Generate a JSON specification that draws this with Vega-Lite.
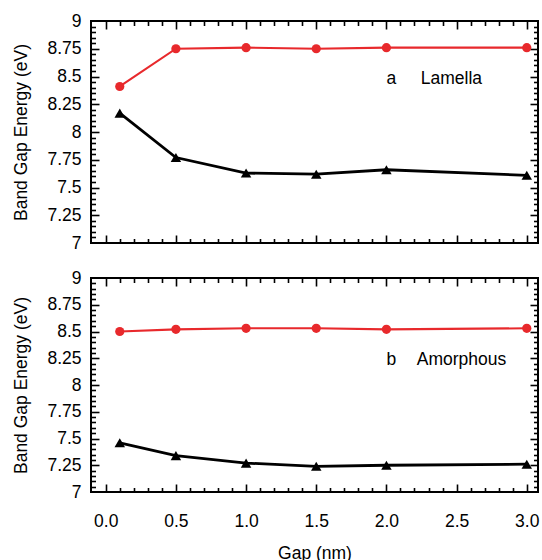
{
  "$schema": "https://vega.github.io/schema/vega-lite/v6.json",
  "padding": {"top": 11, "left": 11, "right": 1, "bottom": 5},
  "background": "white",
  "config": {
    "view": {"stroke": "black", "strokeWidth": 2},
    "axis": {
      "labelFont": "Liberation Sans", "labelFontSize": 17.5, "labelColor": "black",
      "titleFont": "Liberation Sans", "titleFontSize": 17.5, "titleFontWeight": "normal", "titleColor": "black",
      "grid": false, "domain": false, "tickColor": "black", "tickWidth": 1.6,
      "labelFlush": false, "labelOverlap": false, "labelBound": false
    }
  },
  "spacing": 15,
  "datasets": {
    "pts": [
      {"panel": "a", "series": "upper", "gap": 0.1, "energy": 8.41},
      {"panel": "a", "series": "upper", "gap": 0.5, "energy": 8.75},
      {"panel": "a", "series": "upper", "gap": 1.0, "energy": 8.76},
      {"panel": "a", "series": "upper", "gap": 1.5, "energy": 8.75},
      {"panel": "a", "series": "upper", "gap": 2.0, "energy": 8.76},
      {"panel": "a", "series": "upper", "gap": 3.0, "energy": 8.76},
      {"panel": "a", "series": "lower", "gap": 0.1, "energy": 8.17},
      {"panel": "a", "series": "lower", "gap": 0.5, "energy": 7.77},
      {"panel": "a", "series": "lower", "gap": 1.0, "energy": 7.63},
      {"panel": "a", "series": "lower", "gap": 1.5, "energy": 7.62},
      {"panel": "a", "series": "lower", "gap": 2.0, "energy": 7.66},
      {"panel": "a", "series": "lower", "gap": 3.0, "energy": 7.61},
      {"panel": "b", "series": "upper", "gap": 0.1, "energy": 8.50},
      {"panel": "b", "series": "upper", "gap": 0.5, "energy": 8.52},
      {"panel": "b", "series": "upper", "gap": 1.0, "energy": 8.53},
      {"panel": "b", "series": "upper", "gap": 1.5, "energy": 8.53},
      {"panel": "b", "series": "upper", "gap": 2.0, "energy": 8.52},
      {"panel": "b", "series": "upper", "gap": 3.0, "energy": 8.53},
      {"panel": "b", "series": "lower", "gap": 0.1, "energy": 7.46},
      {"panel": "b", "series": "lower", "gap": 0.5, "energy": 7.34},
      {"panel": "b", "series": "lower", "gap": 1.0, "energy": 7.27},
      {"panel": "b", "series": "lower", "gap": 1.5, "energy": 7.24},
      {"panel": "b", "series": "lower", "gap": 2.0, "energy": 7.25},
      {"panel": "b", "series": "lower", "gap": 3.0, "energy": 7.26}
    ],
    "notes": [
      {"panel": "a", "kind": "letter", "gap": 2.036, "energy": 8.435, "label": "a"},
      {"panel": "a", "kind": "name", "gap": 2.245, "energy": 8.435, "label": "Lamella"},
      {"panel": "b", "kind": "letter", "gap": 2.036, "energy": 8.185, "label": "b"},
      {"panel": "b", "kind": "name", "gap": 2.216, "energy": 8.185, "label": "Amorphous"}
    ]
  },
  "vconcat": [
    {
      "width": 447, "height": 222,
      "resolve": {"axis": {"x": "independent", "y": "independent"}},
      "layer": [
        {
          "data": {"name": "pts"}, "transform": [{"filter": "datum.panel == 'a'"}],
          "mark": {"type": "line"},
          "encoding": {
            "x": {"field": "gap", "type": "quantitative", "scale": {"domain": [-0.105, 3.08], "nice": false, "zero": false}, "axis": null},
            "y": {"field": "energy", "type": "quantitative", "scale": {"domain": [7, 9], "nice": false, "zero": false},
                  "axis": {"orient": "left", "values": [7, 7.25, 7.5, 7.75, 8, 8.25, 8.5, 8.75, 9], "ticks": false, "labelExpr": "format(datum.value, '~g')", "labelPadding": 10, "title": "Band Gap Energy (eV)", "titlePadding": 16}},
            "color": {"field": "series", "type": "nominal", "scale": {"domain": ["upper", "lower"], "range": ["#e8292c", "#000000"]}, "legend": null},
            "strokeWidth": {"field": "series", "type": "nominal", "scale": {"domain": ["upper", "lower"], "range": [2.1, 2.8]}, "legend": null}
          }
        },
        {
          "data": {"name": "pts"}, "transform": [{"filter": "datum.panel == 'a' && datum.series == 'upper'"}],
          "mark": {"type": "point", "filled": true, "shape": "circle", "size": 85, "opacity": 1, "color": "#e8292c"},
          "encoding": {
            "x": {"field": "gap", "type": "quantitative", "scale": {"domain": [-0.105, 3.08], "nice": false, "zero": false}, "axis": null},
            "y": {"field": "energy", "type": "quantitative", "scale": {"domain": [7, 9], "nice": false, "zero": false}, "axis": null}
          }
        },
        {
          "data": {"name": "pts"}, "transform": [{"filter": "datum.panel == 'a' && datum.series == 'lower'"}],
          "mark": {"type": "point", "filled": true, "shape": "triangle-up", "size": 110, "opacity": 1, "color": "#000000"},
          "encoding": {
            "x": {"field": "gap", "type": "quantitative", "scale": {"domain": [-0.105, 3.08], "nice": false, "zero": false}, "axis": null},
            "y": {"field": "energy", "type": "quantitative", "scale": {"domain": [7, 9], "nice": false, "zero": false}, "axis": null}
          }
        },
        {
          "data": {"name": "notes"}, "transform": [{"filter": "datum.panel == 'a' && datum.kind == 'letter'"}],
          "mark": {"type": "text", "align": "center", "baseline": "alphabetic", "font": "Liberation Sans", "fontSize": 17.5, "color": "black"},
          "encoding": {
            "x": {"field": "gap", "type": "quantitative", "scale": {"domain": [-0.105, 3.08], "nice": false, "zero": false}, "axis": null},
            "y": {"field": "energy", "type": "quantitative", "scale": {"domain": [7, 9], "nice": false, "zero": false}, "axis": null},
            "text": {"field": "label"}
          }
        },
        {
          "data": {"name": "notes"}, "transform": [{"filter": "datum.panel == 'a' && datum.kind == 'name'"}],
          "mark": {"type": "text", "align": "left", "baseline": "alphabetic", "font": "Liberation Sans", "fontSize": 17.5, "color": "black"},
          "encoding": {
            "x": {"field": "gap", "type": "quantitative", "scale": {"domain": [-0.105, 3.08], "nice": false, "zero": false}, "axis": null},
            "y": {"field": "energy", "type": "quantitative", "scale": {"domain": [7, 9], "nice": false, "zero": false}, "axis": null},
            "text": {"field": "label"}
          }
        },
        {
          "data": {"name": "pts"}, "transform": [{"filter": "datum.panel == 'a'"}],
          "mark": {"type": "point", "opacity": 0},
          "encoding": {
            "x": {"field": "gap", "type": "quantitative", "scale": {"domain": [-0.105, 3.08], "nice": false, "zero": false},
                  "axis": {"orient": "bottom", "values": [0, 0.5, 1, 1.5, 2, 2.5, 3], "labels": false, "tickSize": 8, "offset": -8, "title": null}},
            "y": {"field": "energy", "type": "quantitative", "scale": {"domain": [7, 9], "nice": false, "zero": false},
                  "axis": {"orient": "left", "values": [7.25, 7.5, 7.75, 8, 8.25, 8.5, 8.75], "labels": false, "tickSize": 8, "offset": -8, "title": null}}
          }
        },
        {
          "data": {"name": "pts"}, "transform": [{"filter": "datum.panel == 'a'"}],
          "mark": {"type": "point", "opacity": 0},
          "encoding": {
            "x": {"field": "gap", "type": "quantitative", "scale": {"domain": [-0.105, 3.08], "nice": false, "zero": false},
                  "axis": {"orient": "bottom", "values": [0.1, 0.2, 0.3, 0.4, 0.6, 0.7, 0.8, 0.9, 1.1, 1.2, 1.3, 1.4, 1.6, 1.7, 1.8, 1.9, 2.1, 2.2, 2.3, 2.4, 2.6, 2.7, 2.8, 2.9], "labels": false, "tickSize": 4.5, "offset": -4.5, "title": null}},
            "y": {"field": "energy", "type": "quantitative", "scale": {"domain": [7, 9], "nice": false, "zero": false},
                  "axis": {"orient": "left", "values": [7.05, 7.1, 7.15, 7.2, 7.3, 7.35, 7.4, 7.45, 7.55, 7.6, 7.65, 7.7, 7.8, 7.85, 7.9, 7.95, 8.05, 8.1, 8.15, 8.2, 8.3, 8.35, 8.4, 8.45, 8.55, 8.6, 8.65, 8.7, 8.8, 8.85, 8.9, 8.95], "labels": false, "tickSize": 4.5, "offset": -4.5, "title": null}}
          }
        },
        {
          "data": {"name": "pts"}, "transform": [{"filter": "datum.panel == 'a'"}],
          "mark": {"type": "point", "opacity": 0},
          "encoding": {
            "x": {"field": "gap", "type": "quantitative", "scale": {"domain": [-0.105, 3.08], "nice": false, "zero": false},
                  "axis": {"orient": "top", "values": [0, 0.5, 1, 1.5, 2, 2.5, 3], "labels": false, "tickSize": 8, "offset": -8, "title": null}},
            "y": {"field": "energy", "type": "quantitative", "scale": {"domain": [7, 9], "nice": false, "zero": false},
                  "axis": {"orient": "right", "values": [7.25, 7.5, 7.75, 8, 8.25, 8.5, 8.75], "labels": false, "tickSize": 8, "offset": -8, "title": null}}
          }
        },
        {
          "data": {"name": "pts"}, "transform": [{"filter": "datum.panel == 'a'"}],
          "mark": {"type": "point", "opacity": 0},
          "encoding": {
            "x": {"field": "gap", "type": "quantitative", "scale": {"domain": [-0.105, 3.08], "nice": false, "zero": false},
                  "axis": {"orient": "top", "values": [0.1, 0.2, 0.3, 0.4, 0.6, 0.7, 0.8, 0.9, 1.1, 1.2, 1.3, 1.4, 1.6, 1.7, 1.8, 1.9, 2.1, 2.2, 2.3, 2.4, 2.6, 2.7, 2.8, 2.9], "labels": false, "tickSize": 4.5, "offset": -4.5, "title": null}},
            "y": {"field": "energy", "type": "quantitative", "scale": {"domain": [7, 9], "nice": false, "zero": false},
                  "axis": {"orient": "right", "values": [7.05, 7.1, 7.15, 7.2, 7.3, 7.35, 7.4, 7.45, 7.55, 7.6, 7.65, 7.7, 7.8, 7.85, 7.9, 7.95, 8.05, 8.1, 8.15, 8.2, 8.3, 8.35, 8.4, 8.45, 8.55, 8.6, 8.65, 8.7, 8.8, 8.85, 8.9, 8.95], "labels": false, "tickSize": 4.5, "offset": -4.5, "title": null}}
          }
        }
      ]
    },
    {
      "width": 447, "height": 214,
      "resolve": {"axis": {"x": "independent", "y": "independent"}},
      "layer": [
        {
          "data": {"name": "pts"}, "transform": [{"filter": "datum.panel == 'b'"}],
          "mark": {"type": "line"},
          "encoding": {
            "x": {"field": "gap", "type": "quantitative", "scale": {"domain": [-0.105, 3.08], "nice": false, "zero": false},
                  "axis": {"orient": "bottom", "values": [0, 0.5, 1, 1.5, 2, 2.5, 3], "ticks": false, "format": ".1f", "labelPadding": 20, "title": "Gap (nm)", "titlePadding": 15}},
            "y": {"field": "energy", "type": "quantitative", "scale": {"domain": [7, 9], "nice": false, "zero": false},
                  "axis": {"orient": "left", "values": [7, 7.25, 7.5, 7.75, 8, 8.25, 8.5, 8.75, 9], "ticks": false, "labelExpr": "format(datum.value, '~g')", "labelPadding": 10, "title": "Band Gap Energy (eV)", "titlePadding": 16}},
            "color": {"field": "series", "type": "nominal", "scale": {"domain": ["upper", "lower"], "range": ["#e8292c", "#000000"]}, "legend": null},
            "strokeWidth": {"field": "series", "type": "nominal", "scale": {"domain": ["upper", "lower"], "range": [2.1, 2.8]}, "legend": null}
          }
        },
        {
          "data": {"name": "pts"}, "transform": [{"filter": "datum.panel == 'b' && datum.series == 'upper'"}],
          "mark": {"type": "point", "filled": true, "shape": "circle", "size": 85, "opacity": 1, "color": "#e8292c"},
          "encoding": {
            "x": {"field": "gap", "type": "quantitative", "scale": {"domain": [-0.105, 3.08], "nice": false, "zero": false}, "axis": null},
            "y": {"field": "energy", "type": "quantitative", "scale": {"domain": [7, 9], "nice": false, "zero": false}, "axis": null}
          }
        },
        {
          "data": {"name": "pts"}, "transform": [{"filter": "datum.panel == 'b' && datum.series == 'lower'"}],
          "mark": {"type": "point", "filled": true, "shape": "triangle-up", "size": 110, "opacity": 1, "color": "#000000"},
          "encoding": {
            "x": {"field": "gap", "type": "quantitative", "scale": {"domain": [-0.105, 3.08], "nice": false, "zero": false}, "axis": null},
            "y": {"field": "energy", "type": "quantitative", "scale": {"domain": [7, 9], "nice": false, "zero": false}, "axis": null}
          }
        },
        {
          "data": {"name": "notes"}, "transform": [{"filter": "datum.panel == 'b' && datum.kind == 'letter'"}],
          "mark": {"type": "text", "align": "center", "baseline": "alphabetic", "font": "Liberation Sans", "fontSize": 17.5, "color": "black"},
          "encoding": {
            "x": {"field": "gap", "type": "quantitative", "scale": {"domain": [-0.105, 3.08], "nice": false, "zero": false}, "axis": null},
            "y": {"field": "energy", "type": "quantitative", "scale": {"domain": [7, 9], "nice": false, "zero": false}, "axis": null},
            "text": {"field": "label"}
          }
        },
        {
          "data": {"name": "notes"}, "transform": [{"filter": "datum.panel == 'b' && datum.kind == 'name'"}],
          "mark": {"type": "text", "align": "left", "baseline": "alphabetic", "font": "Liberation Sans", "fontSize": 17.5, "color": "black"},
          "encoding": {
            "x": {"field": "gap", "type": "quantitative", "scale": {"domain": [-0.105, 3.08], "nice": false, "zero": false}, "axis": null},
            "y": {"field": "energy", "type": "quantitative", "scale": {"domain": [7, 9], "nice": false, "zero": false}, "axis": null},
            "text": {"field": "label"}
          }
        },
        {
          "data": {"name": "pts"}, "transform": [{"filter": "datum.panel == 'b'"}],
          "mark": {"type": "point", "opacity": 0},
          "encoding": {
            "x": {"field": "gap", "type": "quantitative", "scale": {"domain": [-0.105, 3.08], "nice": false, "zero": false},
                  "axis": {"orient": "bottom", "values": [0, 0.5, 1, 1.5, 2, 2.5, 3], "labels": false, "tickSize": 8, "offset": -8, "title": null}},
            "y": {"field": "energy", "type": "quantitative", "scale": {"domain": [7, 9], "nice": false, "zero": false},
                  "axis": {"orient": "left", "values": [7.25, 7.5, 7.75, 8, 8.25, 8.5, 8.75], "labels": false, "tickSize": 8, "offset": -8, "title": null}}
          }
        },
        {
          "data": {"name": "pts"}, "transform": [{"filter": "datum.panel == 'b'"}],
          "mark": {"type": "point", "opacity": 0},
          "encoding": {
            "x": {"field": "gap", "type": "quantitative", "scale": {"domain": [-0.105, 3.08], "nice": false, "zero": false},
                  "axis": {"orient": "bottom", "values": [0.1, 0.2, 0.3, 0.4, 0.6, 0.7, 0.8, 0.9, 1.1, 1.2, 1.3, 1.4, 1.6, 1.7, 1.8, 1.9, 2.1, 2.2, 2.3, 2.4, 2.6, 2.7, 2.8, 2.9], "labels": false, "tickSize": 4.5, "offset": -4.5, "title": null}},
            "y": {"field": "energy", "type": "quantitative", "scale": {"domain": [7, 9], "nice": false, "zero": false},
                  "axis": {"orient": "left", "values": [7.05, 7.1, 7.15, 7.2, 7.3, 7.35, 7.4, 7.45, 7.55, 7.6, 7.65, 7.7, 7.8, 7.85, 7.9, 7.95, 8.05, 8.1, 8.15, 8.2, 8.3, 8.35, 8.4, 8.45, 8.55, 8.6, 8.65, 8.7, 8.8, 8.85, 8.9, 8.95], "labels": false, "tickSize": 4.5, "offset": -4.5, "title": null}}
          }
        },
        {
          "data": {"name": "pts"}, "transform": [{"filter": "datum.panel == 'b'"}],
          "mark": {"type": "point", "opacity": 0},
          "encoding": {
            "x": {"field": "gap", "type": "quantitative", "scale": {"domain": [-0.105, 3.08], "nice": false, "zero": false},
                  "axis": {"orient": "top", "values": [0, 0.5, 1, 1.5, 2, 2.5, 3], "labels": false, "tickSize": 8, "offset": -8, "title": null}},
            "y": {"field": "energy", "type": "quantitative", "scale": {"domain": [7, 9], "nice": false, "zero": false},
                  "axis": {"orient": "right", "values": [7.25, 7.5, 7.75, 8, 8.25, 8.5, 8.75], "labels": false, "tickSize": 8, "offset": -8, "title": null}}
          }
        },
        {
          "data": {"name": "pts"}, "transform": [{"filter": "datum.panel == 'b'"}],
          "mark": {"type": "point", "opacity": 0},
          "encoding": {
            "x": {"field": "gap", "type": "quantitative", "scale": {"domain": [-0.105, 3.08], "nice": false, "zero": false},
                  "axis": {"orient": "top", "values": [0.1, 0.2, 0.3, 0.4, 0.6, 0.7, 0.8, 0.9, 1.1, 1.2, 1.3, 1.4, 1.6, 1.7, 1.8, 1.9, 2.1, 2.2, 2.3, 2.4, 2.6, 2.7, 2.8, 2.9], "labels": false, "tickSize": 4.5, "offset": -4.5, "title": null}},
            "y": {"field": "energy", "type": "quantitative", "scale": {"domain": [7, 9], "nice": false, "zero": false},
                  "axis": {"orient": "right", "values": [7.05, 7.1, 7.15, 7.2, 7.3, 7.35, 7.4, 7.45, 7.55, 7.6, 7.65, 7.7, 7.8, 7.85, 7.9, 7.95, 8.05, 8.1, 8.15, 8.2, 8.3, 8.35, 8.4, 8.45, 8.55, 8.6, 8.65, 8.7, 8.8, 8.85, 8.9, 8.95], "labels": false, "tickSize": 4.5, "offset": -4.5, "title": null}}
          }
        }
      ]
    }
  ]
}
